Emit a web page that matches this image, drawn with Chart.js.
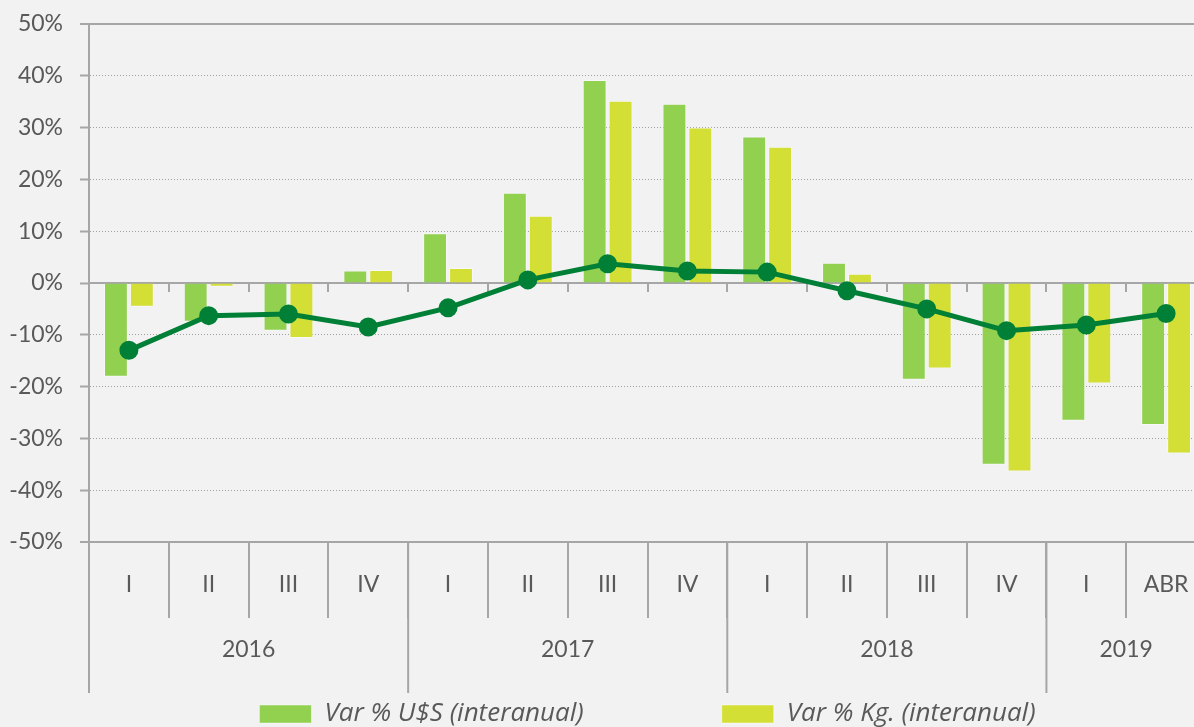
<!DOCTYPE html>
<html>
<head>
<meta charset="utf-8">
<script src="https://cdn.jsdelivr.net/npm/chart.js@4"></script>
<style>
    html, body { margin: 0; padding: 0; background: #f2f2f2; overflow: hidden; }
    #wrap { width: 1194px; height: 727px; overflow: hidden; }
    canvas { display: block; }
</style>
</head>
<body>
<div id="wrap"><canvas id="chart" width="1218" height="737"></canvas></div>
<script>
// quarters (last one is April 2019)
const quarterLabels = ['I', 'II', 'III', 'IV', 'I', 'II', 'III', 'IV', 'I', 'II', 'III', 'IV', 'I', 'ABR'];
const yearLabels = ['2016', '2017', '2018', '2019'];
const yearSpans = [4, 4, 4, 2];

// interannual variation, %
const varUsd = [-18.1, -7.5, -9.2, 2.4, 9.6, 17.4, 39.2, 34.6, 28.3, 3.9, -18.7, -35.1, -26.6, -27.4];
const varKg = [-4.6, -0.7, -10.6, 2.5, 2.9, 13.0, 35.2, 30.0, 26.3, 1.8, -16.5, -36.4, -19.4, -32.9];
const varPrice = [-13.0, -6.3, -6.0, -8.5, -4.8, 0.6, 3.7, 2.3, 2.1, -1.5, -5.0, -9.2, -8.1, -5.9];

const axisGray = '#a6a6a6';
const textGray = '#595959';
const font = 'Lato';

// draws the year row under the quarter labels
const yearAxisPlugin = {
    id: 'yearAxis',
    afterDraw(chart) {
        let ctx = chart.ctx;
        let x = chart.scales.x;
        let top = chart.chartArea.bottom;
        let bottom = top + 151;
        ctx.save();
        ctx.strokeStyle = axisGray;
        ctx.lineWidth = 2;
        ctx.fillStyle = textGray;
        ctx.font = '23px ' + font;
        ctx.textAlign = 'center';
        ctx.textBaseline = 'middle';
        let start = 0;
        for (let i = 0; i <= yearLabels.length; i++) {
            let px = x.getPixelForValue(start - 0.5);
            ctx.beginPath();
            ctx.moveTo(px, top);
            ctx.lineTo(px, bottom);
            ctx.stroke();
            if (i < yearLabels.length) {
                let mid = x.getPixelForValue(start + (yearSpans[i] - 1) / 2);
                ctx.fillText(yearLabels[i], mid, top + 108);
                start += yearSpans[i];
            }
        }
        ctx.restore();
    }
};

const ctx = document.getElementById('chart');
new Chart(ctx, {
    type: 'bar',
    data: {
        labels: quarterLabels,
        datasets: [
            {
                type: 'line',
                label: 'Var % precio',
                data: varPrice,
                borderColor: '#007f37',
                backgroundColor: '#007f37',
                borderWidth: 5,
                pointRadius: 7,
                pointHoverRadius: 7,
                tension: 0,
                order: 0,
            },
            {
                label: 'Var % U$S (interanual)',
                data: varUsd,
                backgroundColor: '#92d050',
                borderColor: 'rgba(255,255,255,0.45)',
                borderWidth: 1,
                order: 1,
            },
            {
                label: 'Var % Kg. (interanual)',
                data: varKg,
                backgroundColor: '#d4df35',
                borderColor: 'rgba(255,255,255,0.45)',
                borderWidth: 1,
                order: 1,
            },
        ]
    },
    options: {
        responsive: false,
        animation: false,
        layout: {
            padding: {top: 24, right: 8, left: 0, bottom: 0}
        },
        datasets: {
            bar: {
                categoryPercentage: 0.65,
                barPercentage: 0.92,
            }
        },
        plugins: {
            tooltip: {enabled: false},
            legend: {
                position: 'bottom',
                fullSize: false,
                labels: {
                    filter: (item) => item.datasetIndex !== 0,
                    boxWidth: 52,
                    boxHeight: 18,
                    padding: 138,
                    color: textGray,
                    font: {family: 'Open Sans', size: 26, style: 'italic'},
                }
            }
        },
        scales: {
            x: {
                type: 'category',
                afterFit: (scale) => { scale.height = 21; },
                grid: {
                    offset: true,
                    drawOnChartArea: false,
                    tickLength: 76,
                    color: axisGray,
                    lineWidth: 2,
                },
                border: {color: axisGray, width: 2},
                ticks: {
                    mirror: true,
                    padding: -56,
                    color: textGray,
                    font: {family: font, size: 23},
                    maxRotation: 0,
                    autoSkip: false,
                }
            },
            x2: {
                type: 'category',
                axis: 'x',
                position: {y: 0},
                labels: quarterLabels,
                offset: true,
                grid: {
                    offset: true,
                    drawOnChartArea: false,
                    tickLength: 8,
                    color: axisGray,
                    lineWidth: 2,
                },
                border: {color: axisGray, width: 2},
                ticks: {display: false},
            },
            y: {
                min: -50,
                max: 50,
                afterFit: (scale) => {
                    scale.width = 89;
                    // keep the plot top fixed by layout padding only
                    scale.paddingTop = 0;
                    scale.paddingBottom = 0;
                },
                grid: {
                    color: (c) => (c.tick && c.tick.value === 0) ? 'transparent' : (c.tick && Math.abs(c.tick.value) === 50 ? axisGray : '#a0a0a0'),
                    lineWidth: (c) => (c.tick && Math.abs(c.tick.value) === 50) ? 2 : 1,
                    tickLength: 9,
                    tickColor: axisGray,
                    tickWidth: 2,
                },
                border: {
                    color: axisGray,
                    width: 2,
                    dash: (c) => (c.tick && Math.abs(c.tick.value) !== 50) ? [1, 2] : [],
                },
                ticks: {
                    stepSize: 10,
                    padding: 17,
                    color: textGray,
                    font: {family: font, size: 23},
                    callback: (v) => v + '%',
                }
            }
        }
    },
    plugins: [yearAxisPlugin]
});
</script>
</body>
</html>
